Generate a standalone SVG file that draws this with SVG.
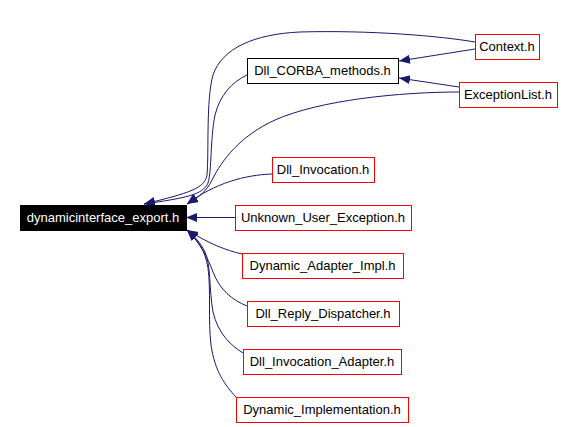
<svg xmlns="http://www.w3.org/2000/svg" width="574" height="427" viewBox="0 0 574 427">
<style>
.n rect{fill:#ffffff;stroke:#ff0000;stroke-width:1}
.n text{font-family:"Liberation Sans",Arial,sans-serif;font-size:13px;fill:#000000;text-anchor:middle}
#main rect{fill:#000000;stroke:#000000}
#main text{fill:#ffffff}
#corba rect{stroke:#000000}
#edges path{fill:none;stroke:#191970;stroke-width:1;marker-end:url(#arr)}
</style>
<defs>
<marker id="arr" markerUnits="userSpaceOnUse" markerWidth="12" markerHeight="10" refX="11" refY="4.5" orient="auto">
<path d="M0,0 L11,4.5 L0,9 z" fill="#191970"/>
</marker>
</defs>
<rect width="574" height="427" fill="#ffffff"/>
<g id="edges">
<path d="M475,42 C440,36 370,30 300,32 C255,34 222,48 213,75 C206,100 209,150 207,175 C205,188 190,193 144,204"/>
<path d="M247,75 C232,82 220,95 215,115 C210,140 212,170 208,183 C203,195 185,198 144,204"/>
<path d="M460,92 C400,92 320,100 275,120 C240,136 222,160 212,180 C206,192 200,196 187,204"/>
<path d="M272,174 C245,175 215,183 187,204"/>
<path d="M235,217.5 L186,217.5"/>
<path d="M242,254 C225,250 210,244 187,230"/>
<path d="M247,306 C232,300 220,290 213,272 C208,258 200,243 187,230"/>
<path d="M243,353 C230,345 218,333 213,312 C209,290 211,265 205,252 C200,242 195,237 187,230"/>
<path d="M236,397 C225,385 215,372 211,345 C208,320 211,290 208,268 C205,250 198,240 187,230"/>
<path d="M475,49 L399,61"/>
<path d="M459,87 L399,78"/>
</g>
<g id="main" class="n"><rect x="20.5" y="205.5" width="166" height="25"/><text x="103" y="222">dynamicinterface_export.h</text></g>
<g id="corba" class="n"><rect x="247.5" y="58.5" width="151" height="25"/><text x="322.5" y="75">Dll_CORBA_methods.h</text></g>
<g id="context" class="n"><rect x="475.5" y="34.5" width="64" height="25"/><text x="507" y="51">Context.h</text></g>
<g id="exceptionlist" class="n"><rect x="459.5" y="82.5" width="98" height="25"/><text x="508" y="99">ExceptionList.h</text></g>
<g id="dllinvocation" class="n"><rect x="272.5" y="157.5" width="102" height="25"/><text x="323" y="174">Dll_Invocation.h</text></g>
<g id="unknown" class="n"><rect x="235.5" y="205.5" width="176" height="25"/><text x="323" y="222">Unknown_User_Exception.h</text></g>
<g id="dynadapter" class="n"><rect x="242.5" y="253.5" width="161" height="25"/><text x="322.5" y="270">Dynamic_Adapter_Impl.h</text></g>
<g id="replydispatcher" class="n"><rect x="247.5" y="301.5" width="152" height="25"/><text x="323" y="318">Dll_Reply_Dispatcher.h</text></g>
<g id="invocationadapter" class="n"><rect x="243.5" y="349.5" width="158" height="25"/><text x="322" y="366">Dll_Invocation_Adapter.h</text></g>
<g id="dynimpl" class="n"><rect x="236.5" y="397.5" width="172" height="25"/><text x="322" y="414">Dynamic_Implementation.h</text></g>
</svg>
